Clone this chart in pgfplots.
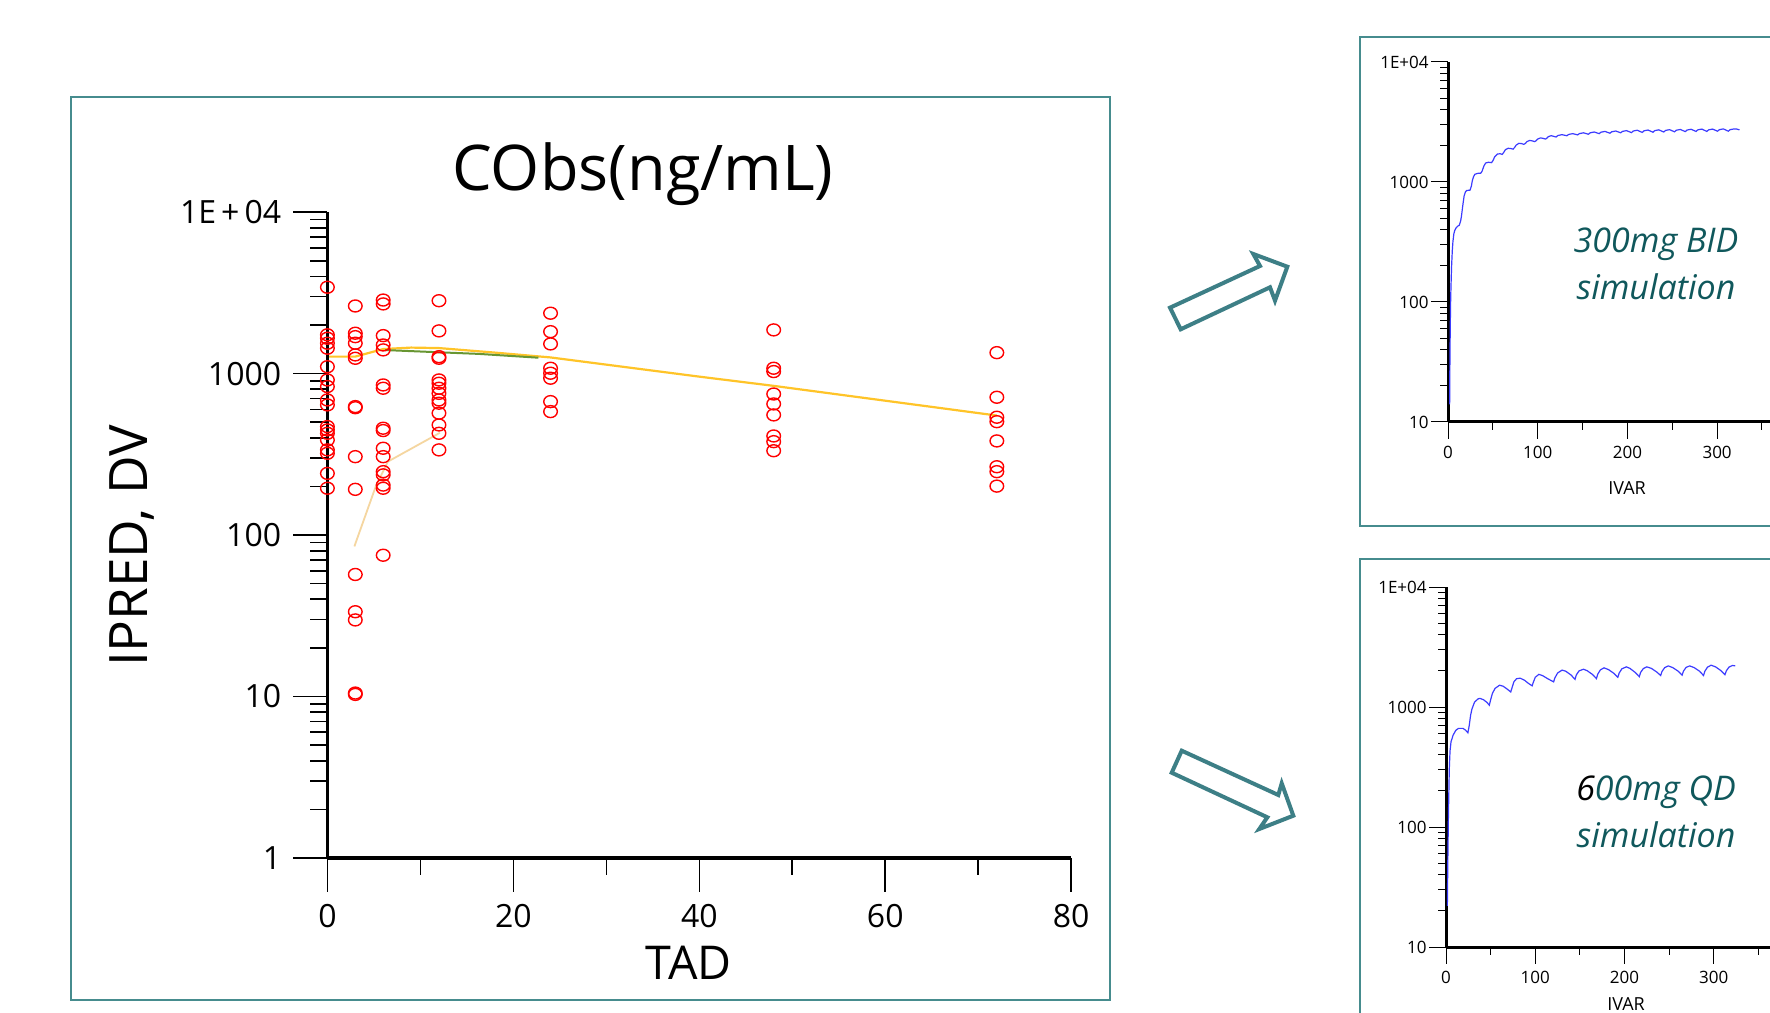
\documentclass[border=0pt]{standalone}
\usepackage{fontspec}
\setmainfont{Open Sans}
\usepackage{pgfplots}
\usepackage{pgfplotstable}
\pgfplotsset{compat=1.18}
\definecolor{bordc}{RGB}{70,140,142}
\definecolor{arrc}{RGB}{61,127,134}
\definecolor{simtxt}{RGB}{16,88,92}
\definecolor{predy}{RGB}{255,196,40}
\definecolor{predg}{RGB}{104,150,50}
\definecolor{tanc}{RGB}{245,214,160}
\definecolor{simblue}{RGB}{60,60,255}

\pgfplotstableread{
x y
0 3430
0 1740
0 1657
0 1543
0 1437
0 1104
0 914
0 832
0 687
0 640
0 470
0 448
0 427
0 388
0 337
0 321
0 241
0 195
3 2625
3 1780
3 1695
3 1543
3 1306
3 1245
3 625
3 615
3 306
3 192
3 57
3 33.5
3 29.8
3 10.5
3 10.3
6 2857
6 2703
6 1720
6 1505
6 1403
6 851
6 812
6 459
6 444
6 345
6 306
6 247
6 236
6 204
6 195
6 75
12 2830
12 1840
12 1274
12 1245
12 914
12 872
12 812
12 755
12 687
12 656
12 569
12 481
12 427
12 337
24 2368
24 1820
24 1528
24 1080
24 1006
24 937
24 671
24 582
48 1866
48 1080
48 1030
48 748
48 649
48 555
48 411
48 379
48 333
72 1349
72 714
72 537
72 504
72 383
72 265
72 247
72 201
}\obsdata

\pgfplotstableread{
x y
1.8 14
2.0 25
2.3 45
2.6 70
3.0 110
3.5 150
4.0 200
4.8 270
5.5 320
6.5 370
7.5 395
9 415
11 430
12.5 435
14 470
15 520
16.5 640
18 770
19.5 830
21 850
24.5 855
26 920
27 1020
28.5 1110
30 1160
33 1180
36.5 1185
38 1230
40 1360
42 1440
45 1460
48.5 1450
50 1500
52 1620
55 1710
58 1720
60.5 1700
62 1760
64 1860
67 1910
70 1900
72.5 1880
74 1930
76 2030
79 2100
82 2090
84.5 2060
86 2090
88 2170
91 2220
94 2200
96.5 2170
98 2200
100 2280
103 2330
106 2310
108.5 2280
110 2310
112 2390
115 2430
118 2400
120.5 2370
122.5 2440
127 2480
132.5 2430
134.5 2490
139 2530
144.5 2470
146.5 2530
151 2570
156.5 2500
158.5 2570
163 2610
168.5 2530
170.5 2600
175 2640
180.5 2550
182.5 2620
187 2660
192.5 2570
194.5 2640
199 2680
204.5 2580
206.5 2660
211 2700
216.5 2590
218.5 2670
223 2710
228.5 2600
230.5 2680
235 2720
240.5 2610
242.5 2690
247 2730
252.5 2620
254.5 2700
259 2740
264.5 2630
266.5 2710
271 2750
276.5 2640
278.5 2720
283 2760
288.5 2640
290.5 2720
295 2760
300.5 2650
302.5 2730
307 2770
312.5 2650
314.5 2730
319 2770
322 2760
325 2720
}\biddata

\pgfplotstableread{
x y
1.5 22
2.0 50
2.6 111
3.2 200
3.7 308
4.5 430
5.6 513
8 584
11 640
14 664
19 664
22 640
24.5 610
26 700
27.5 850
29 960
32 1100
36 1170
38 1180
42 1150
46 1090
48.5 1035
50 1150
52 1300
55 1430
60 1520
64 1490
68 1420
72.5 1335
74 1450
76 1620
79 1720
83 1740
88 1670
92 1580
96.5 1500
98 1620
100 1770
104 1870
108 1830
114 1720
120.5 1620
122 1750
125 1920
130 2030
134 1990
140 1850
144.5 1700
146 1850
149 2000
154 2065
158 2010
164 1870
168.5 1725
170 1880
173 2040
177 2120
182 2050
188 1910
192.5 1770
194 1920
197 2080
202 2160
206 2100
212 1940
216.5 1790
218 1940
221 2090
225 2160
230 2100
236 1960
240.5 1830
242 1980
245 2130
249 2200
254 2130
260 1990
264.5 1840
266 1990
269 2140
273 2200
278 2130
284 1990
288.5 1830
290 1990
293 2150
297 2230
302 2160
308 2010
312.5 1860
314 2000
317 2150
321 2220
324 2200
}\qddata

\begin{document}
\begin{tikzpicture}
\useasboundingbox (0,0) rectangle (885pt,506pt);
\fill[white] (0,0) rectangle (885pt,506pt);

% main panel border
\draw[bordc, line width=1pt] (35.55pt,5.95pt) rectangle (554.8pt,457.45pt);

\begin{axis}[
  scale only axis, anchor=south west, at={(163.7pt,77.05pt)},
  width=371.9pt, height=322.85pt,
  xmin=0, xmax=80, ymode=log, ymin=1, ymax=10000,
  axis lines*=left, axis line style={line width=1.7pt},
  axis on top, clip=false,
  tick align=outside, major tick length=17pt, minor tick length=8.5pt,
  tick style={black, line width=0.8pt},
  xtick={0,20,40,60,80}, xticklabels={0,20,40,60,80},
  minor xtick={10,30,50,70},
  ytick={1,10,100,1000,10000}, yticklabels={1,10,100,1000,1E\hspace{2.5pt}+\hspace{2.5pt}04},
  minor ytick={2,3,4,5,6,7,8,9,20,30,40,50,60,70,80,90,200,300,400,500,600,700,800,900,2000,3000,4000,5000,6000,7000,8000,9000},
  ticklabel style={font=\fontsize{16}{19}\selectfont},
  xticklabel style={yshift=-2.8pt},
  yticklabel style={xshift=-2.6pt},
]
\addplot[predy, line width=1.1pt] coordinates {(0,1275) (3,1275) (6,1420) (9,1450) (12,1440) (18,1350) (24,1260) (40,958) (48,840) (72,550)};
\addplot[predg, line width=1pt] coordinates {(6.2,1400) (12,1356) (16.3,1325) (22.7,1255)};
\addplot[tanc, line width=0.9pt] coordinates {(2.9,85) (5.2,200) (6.5,285) (12.1,430)};
\addplot[only marks, mark=o, red, mark size=3.4pt, mark options={line width=0.7pt, yscale=0.88}] table {\obsdata};
\end{axis}

\node[font=\fontsize{31.5}{38}\selectfont] at (321.5pt,418.7pt) {CObs(ng/mL)};
\node[font=\fontsize{26.5}{31}\selectfont, rotate=90] at (66pt,233pt) {IPRED, DV};
\node[font=\fontsize{23.3}{28}\selectfont] at (344.3pt,24.5pt) {TAD};

% arrows
\draw[arrc, line width=2pt, line join=miter] (585pt,352.15pt) -- (630pt,373pt) -- (626.65pt,379pt) -- (643.65pt,372.65pt) -- (637.5pt,355.65pt) -- (635pt,362.35pt) -- (590.35pt,341.35pt) -- cycle;
\draw[arrc, line width=2pt, line join=miter] (590.85pt,130.65pt) -- (639.15pt,108.5pt) -- (640.85pt,114.35pt) -- (646.65pt,98.15pt) -- (629.65pt,91.5pt) -- (633.65pt,97.35pt) -- (585.85pt,119.65pt) -- cycle;

% top-right panel
\draw[bordc, line width=1pt] (886pt,487.5pt) -- (679.75pt,487.5pt) -- (679.75pt,243pt) -- (886pt,243pt);
\begin{axis}[
  scale only axis, anchor=south west, at={(724pt,295pt)},
  width=161pt, height=180pt,
  xmin=0, xmax=359, ymode=log, ymin=10, ymax=10000,
  axis lines*=left, axis line style={line width=1.5pt},
  tick align=outside, major tick length=8.5pt, minor tick length=4pt,
  tick style={black, line width=0.5pt},
  xtick={0,100,200,300}, xticklabels={0,100,200,300},
  minor xtick={50,150,250,350},
  ytick={10,100,1000,10000}, yticklabels={10,100,1000,1E+04},
  minor ytick={20,30,40,50,60,70,80,90,200,300,400,500,600,700,800,900,2000,3000,4000,5000,6000,7000,8000,9000},
  ticklabel style={font=\fontsize{8.5}{10}\selectfont, inner sep=1pt},
  xticklabel style={yshift=-2.6pt},
  clip=false,
]
\addplot[simblue, line width=0.6pt] table {\biddata};
\end{axis}
\node[font=\fontsize{9}{11}\selectfont] at (813.5pt,262pt) {IVAR};
\node[font=\fontsize{17}{23.5}\selectfont\itshape, text=simtxt, align=center] at (828pt,374.25pt) {300mg BID\\simulation};

% bottom-right panel
\draw[bordc, line width=1pt] (886pt,226.5pt) -- (679.75pt,226.5pt) -- (679.75pt,-2pt);
\begin{axis}[
  scale only axis, anchor=south west, at={(723pt,32.5pt)},
  width=162pt, height=180pt,
  xmin=0, xmax=363, ymode=log, ymin=10, ymax=10000,
  axis lines*=left, axis line style={line width=1.5pt},
  tick align=outside, major tick length=8.5pt, minor tick length=4pt,
  tick style={black, line width=0.5pt},
  xtick={0,100,200,300}, xticklabels={0,100,200,300},
  minor xtick={50,150,250,350},
  ytick={10,100,1000,10000}, yticklabels={10,100,1000,1E+04},
  minor ytick={20,30,40,50,60,70,80,90,200,300,400,500,600,700,800,900,2000,3000,4000,5000,6000,7000,8000,9000},
  ticklabel style={font=\fontsize{8.5}{10}\selectfont, inner sep=1pt},
  xticklabel style={yshift=-2.6pt},
  clip=false,
]
\addplot[simblue, line width=0.6pt] table {\qddata};
\end{axis}
\node[font=\fontsize{9}{11}\selectfont] at (813pt,4pt) {IVAR};
\node[font=\fontsize{17}{23.5}\selectfont\itshape, text=simtxt, align=center] at (828pt,100.25pt) {{\color{black}6}00mg QD\\simulation};
\end{tikzpicture}
\end{document}
